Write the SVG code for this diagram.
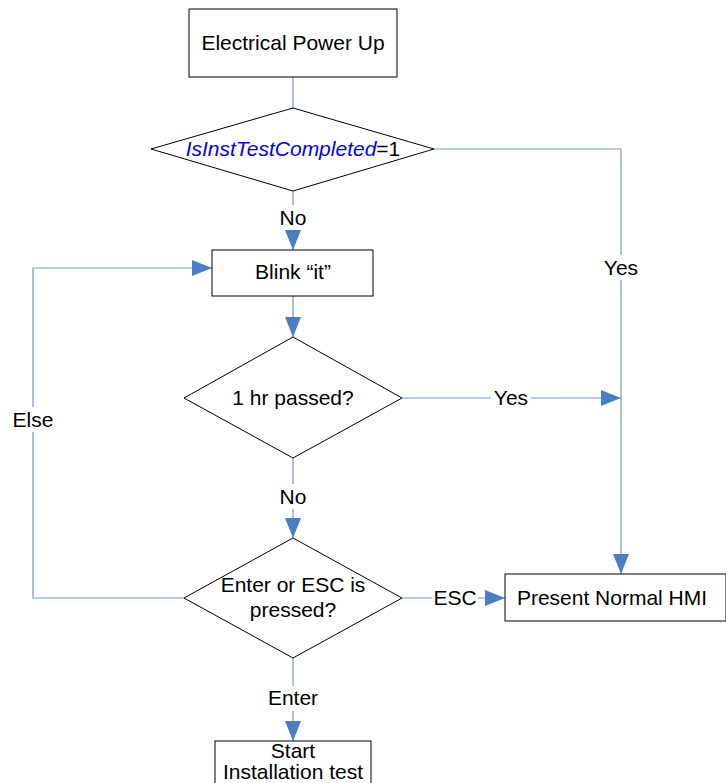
<svg xmlns="http://www.w3.org/2000/svg" width="726" height="783" viewBox="0 0 726 783">
<defs>
<marker id="arr" markerUnits="userSpaceOnUse" markerWidth="20" markerHeight="16" refX="20" refY="8" orient="auto">
<path d="M0,0 L20,8 L0,16 Z" fill="#4A7EC4"/>
</marker>
<style>
.n{fill:#fff;stroke:#000;stroke-width:1}
.c{fill:none;stroke:#6F9AD8;stroke-width:1.2}
.t{font-family:"Liberation Sans",Arial,sans-serif;font-size:21px;fill:#000;text-anchor:middle}
.lb{fill:#fff}
</style>
</defs>
<rect width="726" height="783" fill="#fff"/>
<g id="connectors">
<path class="c" d="M293,77 V108"/>
<path class="c" d="M293,191 V250" marker-end="url(#arr)"/>
<path class="c" d="M293,296 V337" marker-end="url(#arr)"/>
<path class="c" d="M293,458 V538" marker-end="url(#arr)"/>
<path class="c" d="M293,658 V741" marker-end="url(#arr)"/>
<path class="c" d="M434,149 H621 V574" marker-end="url(#arr)"/>
<path class="c" d="M402,398 H621" marker-end="url(#arr)"/>
<path class="c" d="M402,598 H505" marker-end="url(#arr)"/>
<path class="c" d="M184,598 H33 V268 H212" marker-end="url(#arr)"/>
<rect class="lb" x="275" y="205" width="36" height="25"/>
<text class="t" x="293" y="225">No</text>
<rect class="lb" x="275" y="484" width="36" height="25"/>
<text class="t" x="293" y="504">No</text>
<rect class="lb" x="601" y="255" width="40" height="25"/>
<text class="t" x="621" y="275">Yes</text>
<rect class="lb" x="491" y="386" width="40" height="24"/>
<text class="t" x="511" y="405">Yes</text>
<rect class="lb" x="9" y="407" width="48" height="25"/>
<text class="t" x="33" y="427">Else</text>
<rect class="lb" x="432" y="586" width="46" height="24"/>
<text class="t" x="455" y="605">ESC</text>
<rect class="lb" x="265" y="686" width="56" height="25"/>
<text class="t" x="293" y="705">Enter</text>
</g>
<g id="power-up">
<rect class="n" x="189" y="9" width="208" height="68"/>
<text class="t" x="293" y="50">Electrical Power Up</text>
</g>
<g id="is-inst-test-completed">
<polygon class="n" points="293,108 434,149 293,191 151,149"/>
<text class="t" x="293" y="156"><tspan fill="#0000FF" font-style="italic">IsInstTestCompleted</tspan>=1</text>
</g>
<g id="blink">
<rect class="n" x="212" y="250" width="161" height="46"/>
<text class="t" x="293" y="279">Blink “it”</text>
</g>
<g id="hr-passed">
<polygon class="n" points="293,337 402,398 293,458 184,398"/>
<text class="t" x="293" y="405">1 hr passed?</text>
</g>
<g id="enter-esc">
<polygon class="n" points="293,538 402,598 293,658 184,598"/>
<text class="t" x="293" y="592">Enter or ESC is</text>
<text class="t" x="293" y="617">pressed?</text>
</g>
<g id="present-hmi">
<rect class="n" x="505" y="574" width="221" height="47"/>
<text class="t" x="612" y="605">Present Normal HMI</text>
</g>
<g id="start-install">
<rect class="n" x="215" y="741" width="156" height="50"/>
<text class="t" x="293" y="758">Start</text>
<text class="t" x="293" y="779">Installation test</text>
</g>
</svg>
